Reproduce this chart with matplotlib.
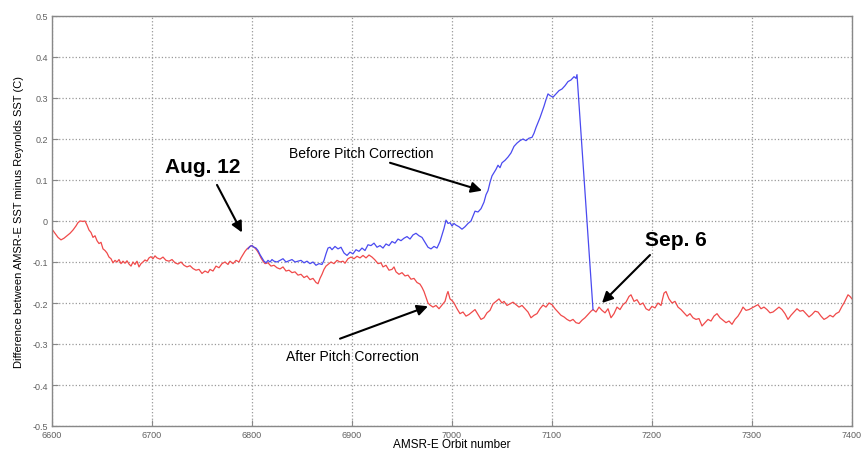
import numpy as np
import matplotlib
matplotlib.use("Agg")
import matplotlib.pyplot as plt

plt.rcParams['font.family'] = ['Liberation Sans', 'DejaVu Sans']

# after pitch correction (red)
red_orbit = [6600, 6603, 6606, 6609, 6612, 6615, 6618, 6621, 6624, 6626, 6628, 6631, 6633, 6635,
             6637, 6639, 6641, 6643, 6645, 6647, 6649, 6651, 6653, 6655, 6657, 6659, 6661, 6663,
             6665, 6667, 6669, 6671, 6673, 6675, 6677, 6679, 6681, 6683, 6685, 6687, 6689, 6691,
             6693, 6695, 6697, 6699, 6701, 6703, 6705, 6708, 6711, 6714, 6717, 6720, 6723, 6726,
             6729, 6732, 6735, 6738, 6741, 6744, 6747, 6750, 6753, 6756, 6758, 6761, 6764, 6767,
             6770, 6773, 6776, 6778, 6781, 6784, 6787, 6789, 6791, 6793, 6795, 6797, 6799, 6801,
             6803, 6805, 6807, 6809, 6811, 6813, 6816, 6819, 6822, 6825, 6828, 6831, 6834, 6837,
             6840, 6843, 6846, 6849, 6852, 6855, 6858, 6861, 6864, 6866, 6868, 6870, 6872, 6874,
             6876, 6879, 6882, 6885, 6888, 6891, 6893, 6896, 6899, 6902, 6905, 6908, 6911, 6914,
             6917, 6920, 6923, 6926, 6929, 6931, 6934, 6937, 6940, 6942, 6944, 6947, 6950, 6953,
             6956, 6959, 6962, 6965, 6968, 6970, 6972, 6974, 6976, 6978, 6981, 6984, 6987, 6990,
             6993, 6995, 6996, 6998, 7000, 7002, 7005, 7008, 7011, 7014, 7017, 7020, 7023, 7026,
             7029, 7032, 7035, 7038, 7041, 7044, 7047, 7050, 7052, 7055, 7058, 7061, 7064, 7067,
             7070, 7073, 7076, 7079, 7082, 7085, 7088, 7091, 7094, 7097, 7100, 7103, 7106, 7109,
             7112, 7115, 7118, 7121, 7124, 7127, 7130, 7133, 7136, 7139, 7141, 7144, 7147, 7150,
             7153, 7156, 7159, 7162, 7165, 7168, 7171, 7174, 7177, 7179, 7182, 7185, 7188, 7191,
             7194, 7197, 7200, 7203, 7206, 7209, 7212, 7214, 7217, 7220, 7223, 7226, 7229, 7232,
             7235, 7238, 7241, 7244, 7247, 7250, 7253, 7256, 7259, 7262, 7265, 7268, 7271, 7274,
             7277, 7280, 7283, 7286, 7289, 7291, 7294, 7297, 7300, 7303, 7306, 7309, 7312, 7315,
             7318, 7321, 7324, 7327, 7330, 7333, 7336, 7339, 7342, 7345, 7348, 7351, 7354, 7357,
             7360, 7363, 7366, 7369, 7372, 7375, 7378, 7381, 7384, 7387, 7390, 7392, 7394, 7396,
             7398, 7400]
red_diff = [-0.020, -0.030, -0.040, -0.046, -0.042, -0.036, -0.030, -0.022, -0.012, -0.004, 0.000,
            -0.001, 0.000, -0.010, -0.022, -0.028, -0.040, -0.036, -0.048, -0.055, -0.052, -0.068,
            -0.072, -0.078, -0.088, -0.092, -0.102, -0.096, -0.100, -0.094, -0.104, -0.098, -0.103,
            -0.097, -0.105, -0.110, -0.100, -0.106, -0.098, -0.112, -0.104, -0.100, -0.095, -0.098,
            -0.090, -0.087, -0.092, -0.085, -0.090, -0.093, -0.088, -0.096, -0.098, -0.094, -0.102,
            -0.105, -0.100, -0.108, -0.112, -0.109, -0.116, -0.120, -0.118, -0.128, -0.122, -0.126,
            -0.118, -0.122, -0.110, -0.114, -0.104, -0.100, -0.106, -0.098, -0.104, -0.096, -0.100,
            -0.090, -0.082, -0.074, -0.068, -0.064, -0.060, -0.062, -0.066, -0.072, -0.080, -0.090,
            -0.098, -0.104, -0.102, -0.110, -0.108, -0.114, -0.117, -0.112, -0.122, -0.120, -0.126,
            -0.124, -0.132, -0.130, -0.138, -0.134, -0.143, -0.140, -0.150, -0.153, -0.140, -0.130,
            -0.118, -0.110, -0.106, -0.100, -0.104, -0.096, -0.100, -0.098, -0.103, -0.092, -0.088,
            -0.092, -0.086, -0.090, -0.084, -0.090, -0.083, -0.088, -0.095, -0.104, -0.102, -0.112,
            -0.108, -0.120, -0.118, -0.112, -0.124, -0.130, -0.126, -0.134, -0.132, -0.142, -0.140,
            -0.150, -0.154, -0.162, -0.172, -0.186, -0.200, -0.205, -0.210, -0.206, -0.214, -0.205,
            -0.196, -0.178, -0.172, -0.190, -0.194, -0.200, -0.214, -0.226, -0.222, -0.232, -0.228,
            -0.222, -0.216, -0.228, -0.240, -0.236, -0.224, -0.218, -0.202, -0.196, -0.190, -0.200,
            -0.196, -0.206, -0.202, -0.198, -0.204, -0.210, -0.206, -0.214, -0.222, -0.236, -0.230,
            -0.226, -0.214, -0.205, -0.210, -0.200, -0.204, -0.214, -0.222, -0.230, -0.234, -0.240,
            -0.244, -0.240, -0.248, -0.250, -0.242, -0.236, -0.228, -0.220, -0.216, -0.222, -0.210,
            -0.218, -0.224, -0.214, -0.236, -0.226, -0.210, -0.216, -0.204, -0.198, -0.184, -0.180,
            -0.196, -0.192, -0.204, -0.200, -0.214, -0.218, -0.208, -0.212, -0.200, -0.206, -0.176,
            -0.172, -0.190, -0.200, -0.196, -0.210, -0.216, -0.224, -0.232, -0.226, -0.236, -0.240,
            -0.238, -0.256, -0.248, -0.240, -0.244, -0.232, -0.226, -0.236, -0.242, -0.248, -0.244,
            -0.252, -0.240, -0.232, -0.220, -0.210, -0.218, -0.216, -0.212, -0.208, -0.204, -0.214,
            -0.210, -0.216, -0.224, -0.222, -0.216, -0.210, -0.216, -0.226, -0.240, -0.230, -0.222,
            -0.214, -0.220, -0.218, -0.226, -0.234, -0.228, -0.220, -0.222, -0.232, -0.240, -0.236,
            -0.230, -0.234, -0.226, -0.222, -0.208, -0.200, -0.190, -0.180, -0.184, -0.190]

# before pitch correction (blue)
blue_orbit = [6796, 6798, 6800, 6802, 6804, 6806, 6808, 6810, 6812, 6814, 6816, 6818, 6820, 6822,
              6825, 6828, 6831, 6834, 6837, 6840, 6843, 6846, 6849, 6852, 6855, 6858, 6861, 6864,
              6867, 6870, 6872, 6874, 6876, 6878, 6880, 6883, 6886, 6889, 6892, 6895, 6898, 6901,
              6904, 6907, 6910, 6913, 6916, 6919, 6922, 6925, 6928, 6931, 6934, 6937, 6940, 6943,
              6946, 6949, 6952, 6955, 6958, 6961, 6964, 6967, 6970, 6973, 6976, 6979, 6982, 6985,
              6988, 6990, 6992, 6994, 6996, 6998, 7000, 7002, 7004, 7007, 7010, 7013, 7016, 7019,
              7021, 7023, 7026, 7029, 7032, 7034, 7036, 7038, 7040, 7042, 7044, 7046, 7048, 7050,
              7053, 7056, 7059, 7062, 7065, 7068, 7071, 7074, 7077, 7080, 7082, 7084, 7086, 7088,
              7090, 7092, 7094, 7096, 7098, 7101, 7104, 7107, 7110, 7113, 7116, 7119, 7122, 7124,
              7125, 7141]
blue_diff = [-0.068, -0.062, -0.060, -0.064, -0.066, -0.072, -0.082, -0.090, -0.098, -0.102, -0.096,
             -0.100, -0.094, -0.098, -0.100, -0.096, -0.092, -0.100, -0.097, -0.094, -0.100, -0.098,
             -0.096, -0.102, -0.098, -0.104, -0.100, -0.108, -0.104, -0.106, -0.096, -0.080, -0.066,
             -0.064, -0.070, -0.062, -0.068, -0.064, -0.078, -0.084, -0.076, -0.080, -0.070, -0.074,
             -0.066, -0.072, -0.058, -0.060, -0.054, -0.064, -0.060, -0.066, -0.056, -0.060, -0.050,
             -0.054, -0.044, -0.048, -0.042, -0.038, -0.044, -0.034, -0.030, -0.036, -0.040, -0.052,
             -0.064, -0.068, -0.062, -0.066, -0.050, -0.034, -0.018, 0.002, -0.006, -0.004, -0.012,
             -0.006, -0.010, -0.014, -0.020, -0.014, -0.006, 0.000, 0.012, 0.024, 0.022, 0.030, 0.046,
             0.064, 0.074, 0.094, 0.110, 0.118, 0.126, 0.136, 0.130, 0.142, 0.148, 0.156, 0.166, 0.182,
             0.190, 0.196, 0.200, 0.196, 0.202, 0.204, 0.214, 0.228, 0.240, 0.252, 0.266, 0.280, 0.296,
             0.310, 0.306, 0.302, 0.310, 0.318, 0.322, 0.330, 0.340, 0.344, 0.352, 0.348, 0.357, -0.216]

x_ticks = [6600, 6700, 6800, 6900, 7000, 7100, 7200, 7300, 7400]
y_ticks = [-0.5, -0.4, -0.3, -0.2, -0.1, 0, 0.1, 0.2, 0.3, 0.4, 0.5]
y_tick_labels = ['-0.5', '-0.4', '-0.3', '-0.2', '-0.1', '0', '0.1', '0.2', '0.3', '0.4', '0.5']

fig = plt.figure(figsize=(8.65, 4.52), dpi=100)
ax = fig.add_axes([52 / 865, 25 / 452, 800 / 865, 410 / 452])

ax.plot(red_orbit, red_diff, color='#f04a4a', lw=0.9)
ax.plot(blue_orbit, blue_diff, color='#4a4af0', lw=0.9)

ax.set_xlim(6600, 7400)
ax.set_ylim(-0.5, 0.5)
ax.set_xticks(x_ticks)
ax.set_yticks(y_ticks)
ax.set_yticklabels(y_tick_labels)
ax.tick_params(direction='in', length=4, width=0.8, colors='#888888',
               labelcolor='#606060', labelsize=6.5, pad=3)
ax.tick_params(axis='x', pad=3)
ax.grid(True, linestyle=':', color='#999999', lw=0.9)
for s in ax.spines.values():
    s.set_color('#888888')
    s.set_linewidth(1.0)

ax.set_xlabel('AMSR-E Orbit number', fontsize=8.5, va='bottom')
ax.xaxis.set_label_coords(452 / 865, 0.5 / 452, transform=fig.transFigure)
ax.set_ylabel('Difference between AMSR-E SST minus Reynolds SST (C)', fontsize=8, labelpad=6)

arrow = dict(arrowstyle='-|>', color='black', lw=1.5, mutation_scale=16, shrinkA=0, shrinkB=0)

ax.text(6751, 0.132, 'Aug. 12', fontsize=15, fontweight='bold', ha='center', va='center')
ax.annotate('', xy=(6790, -0.028), xytext=(6765, 0.088), arrowprops=arrow)

ax.text(6909, 0.166, 'Before Pitch Correction', fontsize=10, ha='center', va='center')
ax.annotate('', xy=(7030, 0.074), xytext=(6938, 0.142), arrowprops=arrow)

ax.text(6900, -0.33, 'After Pitch Correction', fontsize=10, ha='center', va='center')
ax.annotate('', xy=(6976, -0.208), xytext=(6888, -0.287), arrowprops=arrow)

ax.text(7224, -0.045, 'Sep. 6', fontsize=15, fontweight='bold', ha='center', va='center')
ax.annotate('', xy=(7150, -0.2), xytext=(7198, -0.083), arrowprops=arrow)

fig.savefig('out.png', dpi=100)
